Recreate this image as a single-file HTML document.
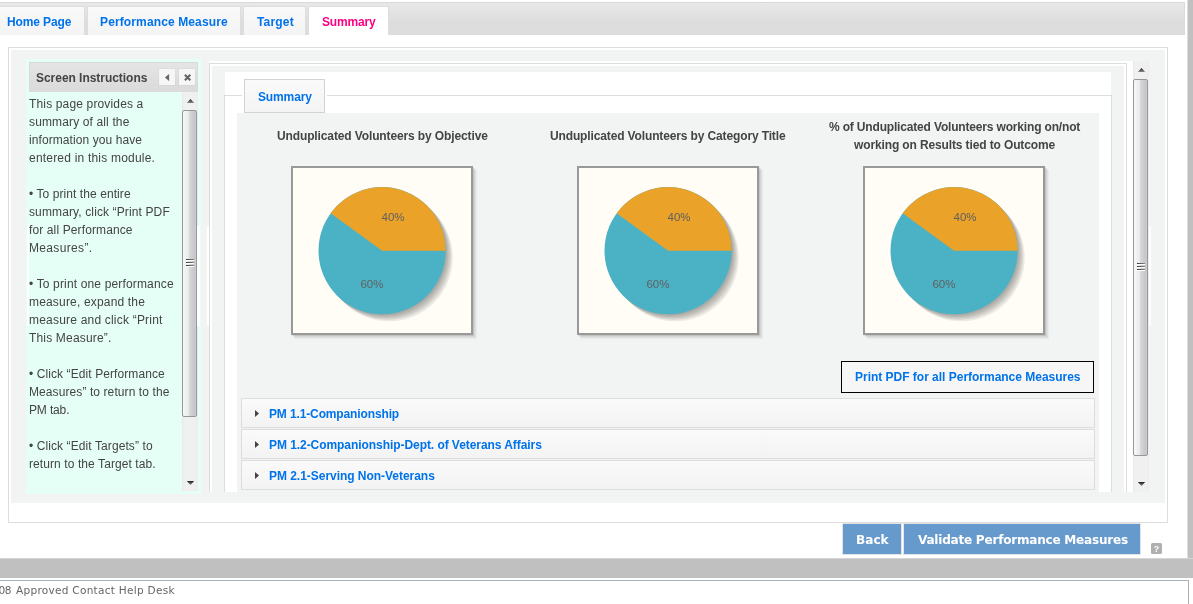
<!DOCTYPE html>
<html lang="en">
<head>
<meta charset="utf-8">
<title>Summary</title>
<style>
html,body{margin:0;padding:0;}
body{width:1193px;height:604px;overflow:hidden;background:#fff;position:relative;font-family:"Liberation Sans",Arial,Helvetica,sans-serif;font-size:12px;color:#444;}
.abs{position:absolute;box-sizing:border-box;}
a{text-decoration:none;}
h1,h2,h3,p,ul,li,figure,figcaption,nav,aside,main,section,footer,header{margin:0;padding:0;border:0;font-weight:normal;list-style:none;}
button{appearance:none;-webkit-appearance:none;border:0;padding:0;margin:0;background:none;font:inherit;color:inherit;text-align:left;cursor:pointer;}
.tx{white-space:nowrap;line-height:18px;height:18px;font-size:12px;}
.tb{font-weight:bold;}
.tn{color:#444;}
.blue{color:#0073ea;}
.pink{color:#ff0084;}
.dark{color:#444;}
.dark2{color:#444;}
.vb{font-family:"DejaVu Sans","Liberation Sans",sans-serif;font-weight:bold;font-size:13px;color:#fff;line-height:20px;height:20px;transform:scaleX(0.93);transform-origin:0 0;}
.vf{font-family:"DejaVu Sans","Liberation Sans",sans-serif;font-size:9.6px;color:#666;transform:scaleX(1.1);transform-origin:0 0;}
#band{left:-6px;top:2px;width:1191px;height:33px;border:1px solid #dadada;border-bottom:0;background:linear-gradient(#e8e8e8,#dddddd 60%,#dcdcdc);}
.tab{top:6px;height:29px;border:1px solid #ddd;border-bottom:0;background:linear-gradient(#f9f9f9,#f4f4f4);}
.tab.on{background:#fff;}
#rstrip{left:1187px;top:0;width:6px;height:578px;background:linear-gradient(90deg,#dedede 0,#dedede 1px,#c0c0c0 1px);}
#gband{left:0;top:558px;width:1193px;height:20px;background:linear-gradient(#d6d6d6 0,#d6d6d6 1px,#c0c0c0 1px);}
#foot{left:-10px;top:580px;width:1199px;height:30px;border:1px solid #a9b1b9;background:#fff;}
#outer{left:8px;top:47px;width:1160px;height:476px;border:1px solid #ddd;background:#fff;}
#inner{left:11px;top:50px;width:1154px;height:453px;background:#f2f4f4;}
#mint{left:26px;top:59px;width:175px;height:435px;background:#e6fff6;}
#shead{left:29px;top:62px;width:169px;height:30px;border:1px solid #dadada;background:linear-gradient(#e5e5e5,#dcdcdc 80%);}
.hbtn{top:69px;width:16px;height:16px;background:#f6f6f6;box-shadow:0 0 0 1px rgba(0,0,0,.02);}
.track{background:linear-gradient(90deg,#e9e9e9 0,#f0f0f0 2px,#f0f0f0 14px,#ececec 16px);}
.thumb{border:1px solid #979797;border-radius:2px;background:linear-gradient(90deg,#f8f8f8 0,#e9e9eb 45%,#d8d8db 50%,#c4c4c9 92%,#d4d4d6 100%);}
.grip{width:8px;height:8px;background:linear-gradient(90deg,#3a3a3a,#8a8a8a) 0 0/8px 1px no-repeat,linear-gradient(#fff,#fff) 0 1px/8px 1px no-repeat,linear-gradient(90deg,#3a3a3a,#8a8a8a) 0 3px/8px 1px no-repeat,linear-gradient(#fff,#fff) 0 4px/8px 1px no-repeat,linear-gradient(90deg,#3a3a3a,#8a8a8a) 0 6px/8px 1px no-repeat,linear-gradient(#fff,#fff) 0 7px/8px 1px no-repeat;}
.strip{background:#fff;top:226px;height:100px;}
#rwhite{left:209px;top:61px;width:924px;height:431px;background:#fff;}
#rborder{left:209px;top:63px;width:918px;height:429px;border:1px solid #ddd;border-bottom:0;background:#fff;}
#rgray{left:212px;top:66px;width:912px;height:426px;background:#f2f4f4;}
#rw2{left:225px;top:72px;width:886px;height:420px;background:#fff;}
#fs{left:224px;top:95px;width:888px;height:397px;border:1px solid #ddd;border-bottom:0;}
#legpad{left:242px;top:95px;width:85px;height:1px;background:#fff;}
#legend{left:244px;top:79px;width:81px;height:34px;border:1px solid #d3d3d3;background:linear-gradient(#fafafa,#f4f4f4);}
#fgray{left:237px;top:113px;width:862px;height:379px;background:#f2f4f4;}
.chart{top:166px;width:182px;height:169px;border:2px solid #999;background:#fffdf6;box-shadow:1px 1px 0 rgba(0,0,0,.08),2px 2px 0 rgba(0,0,0,.05),3px 3px 0 rgba(0,0,0,.04),4px 4px 1px rgba(0,0,0,.035);}
#pbtn{left:841px;top:361px;width:253px;height:32px;border:1px solid #000;background:#f6f6f6;}
.acc{left:241px;width:854px;height:30px;border:1px solid #ddd;background:linear-gradient(#fafafa,#f3f3f3);}
.btn{top:523px;height:32px;background:#6699cc;border:1px solid #e4e4e4;}
#help{left:1151px;top:543px;width:11px;height:11px;border-radius:1.5px;background:#b0b0b0;color:#fff;font-size:9px;font-weight:bold;line-height:12.5px;text-align:center;overflow:hidden;}
</style>
</head>
<body>
<header>
<div class="abs" id="band"></div>
<nav>
<ul>
<li><div class="abs tab" style="left:-5px;width:90px;"></div><a href="#" id="t_home" class="abs tx tb blue" style="left:7.00px;top:13px;letter-spacing:-0.130px">Home Page</a></li>
<li><div class="abs tab" style="left:87px;width:154px;"></div><a href="#" id="t_perf" class="abs tx tb blue" style="left:100.00px;top:13px;letter-spacing:0.124px">Performance Measure</a></li>
<li><div class="abs tab" style="left:243px;width:63px;"></div><a href="#" id="t_targ" class="abs tx tb blue" style="left:257.00px;top:13px;letter-spacing:0.176px">Target</a></li>
<li><div class="abs tab on" style="left:308px;width:81px;"></div><a href="#" id="t_summ" class="abs tx tb pink" style="left:322.00px;top:13px;letter-spacing:-0.173px">Summary</a></li>
</ul>
</nav>
</header>
<div class="abs" id="rstrip"></div>
<div class="abs" id="gband"></div>

<div class="abs" id="outer"></div>
<div class="abs" id="inner"></div>

<aside>
<div class="abs" id="mint"></div>
<div class="abs" id="shead"></div>
<h3 id="t_scr" class="abs tx tb dark" style="left:36.00px;top:69px;letter-spacing:-0.036px">Screen Instructions</h3>
<div class="abs hbtn" style="left:159px;"><svg width="16" height="16" viewBox="0 0 16 16"><path d="M10.1 5 L10.1 12 L5.9 8.5 Z" fill="#666"/></svg></div>
<div class="abs hbtn" style="left:179px;"><svg width="16" height="16" viewBox="0 0 16 16"><path d="M5.9 5.8 L11.3 11.2 M11.3 5.8 L5.9 11.2" stroke="#666" stroke-width="2.2" fill="none"/></svg></div>
<div class="abs track" style="left:182px;top:92px;width:16px;height:399px;"></div>
<svg class="abs" style="left:182px;top:92px;" width="16" height="17" viewBox="0 0 16 17"><defs><linearGradient id="ag" x1="0" y1="0" x2="0" y2="1"><stop offset="0" stop-color="#1c1c1c"/><stop offset="1" stop-color="#8a8a8a"/></linearGradient></defs><path d="M4.8 11 L8.5 7 L12.2 11 Z" fill="url(#ag)"/></svg>
<div class="abs thumb" style="left:182px;top:110px;width:15px;height:307px;"></div>
<div class="abs grip" style="left:186px;top:259px;"></div>
<svg class="abs" style="left:182px;top:474px;" width="16" height="17" viewBox="0 0 16 17"><path d="M4.8 7 L8.5 11 L12.2 7 Z" fill="url(#ag)"/></svg>
<div class="abs strip" style="left:27px;width:2px;"></div>
<div class="abs strip" style="left:197px;width:3px;"></div>
<div class="abs strip" style="left:207px;width:2px;"></div>
<p><span id="s0" class="abs tx tn" style="left:29.00px;top:95px;letter-spacing:0.152px">This page provides a</span><span id="s1" class="abs tx tn" style="left:29.00px;top:113px;letter-spacing:0.136px">summary of all the</span><span id="s2" class="abs tx tn" style="left:29.00px;top:131px;letter-spacing:0.080px">information you have</span><span id="s3" class="abs tx tn" style="left:29.00px;top:149px;letter-spacing:0.204px">entered in this module.</span></p>
<p><span id="s5" class="abs tx tn" style="left:29.00px;top:185px;letter-spacing:0.076px">• To print the entire</span><span id="s6" class="abs tx tn" style="left:29.00px;top:203px;letter-spacing:0.123px">summary, click “Print PDF</span><span id="s7" class="abs tx tn" style="left:29.00px;top:221px;letter-spacing:0.120px">for all Performance</span><span id="s8" class="abs tx tn" style="left:29.00px;top:239px;letter-spacing:0.338px">Measures”.</span></p>
<p><span id="s10" class="abs tx tn" style="left:29.00px;top:275px;letter-spacing:0.154px">• To print one performance</span><span id="s11" class="abs tx tn" style="left:29.00px;top:293px;letter-spacing:0.173px">measure, expand the</span><span id="s12" class="abs tx tn" style="left:29.00px;top:311px;letter-spacing:0.202px">measure and click “Print</span><span id="s13" class="abs tx tn" style="left:29.00px;top:329px;letter-spacing:0.172px">This Measure”.</span></p>
<p><span id="s15" class="abs tx tn" style="left:29.00px;top:365px;letter-spacing:0.090px">• Click “Edit Performance</span><span id="s16" class="abs tx tn" style="left:29.00px;top:383px;letter-spacing:0.090px">Measures” to return to the</span><span id="s17" class="abs tx tn" style="left:29.00px;top:401px;letter-spacing:-0.147px">PM tab.</span></p>
<p><span id="s19" class="abs tx tn" style="left:29.00px;top:437px;letter-spacing:0.093px">• Click “Edit Targets” to</span><span id="s20" class="abs tx tn" style="left:29.00px;top:455px;letter-spacing:0.087px">return to the Target tab.</span></p>
</aside>

<main>
<div class="abs" id="rwhite"></div>
<div class="abs" id="rborder"></div>
<div class="abs" id="rgray"></div>
<div class="abs" id="rw2"></div>
<section>
<div class="abs" id="fs"></div>
<div class="abs" id="fgray"></div>
<div class="abs" id="legpad"></div>
<div class="abs" id="legend"></div>
<h2 id="t_leg" class="abs tx tb blue" style="left:258.00px;top:88px;letter-spacing:-0.133px">Summary</h2>
<figure><figcaption id="c1" class="abs tx tb dark2" style="left:277.00px;top:127px;letter-spacing:-0.123px">Unduplicated Volunteers by Objective</figcaption><div class="abs chart" style="left:291px;"><svg width="178" height="165" viewBox="0 0 178 165" style="display:block"><circle cx="90.51" cy="84.11" r="63.6" fill="#000" fill-opacity="0.075"/><circle cx="91.92" cy="85.52" r="63.6" fill="#000" fill-opacity="0.075"/><circle cx="93.33" cy="86.93" r="63.6" fill="#000" fill-opacity="0.075"/><circle cx="94.74" cy="88.34" r="63.6" fill="#000" fill-opacity="0.075"/><circle cx="96.15" cy="89.75" r="63.6" fill="#000" fill-opacity="0.075"/><circle cx="89.1" cy="82.7" r="63.6" fill="#4bb2c5"/><path d="M89.1 82.7 L152.7 82.7 A63.6 63.6 0 0 0 37.65 45.32 Z" fill="#eaa228"/><text x="100.1" y="52.7" text-anchor="middle" font-family="Liberation Sans, sans-serif" font-size="11.5" fill="#606060">40%</text><text x="78.9" y="119.7" text-anchor="middle" font-family="Liberation Sans, sans-serif" font-size="11.5" fill="#606060">60%</text></svg></div></figure>
<figure><figcaption id="c2" class="abs tx tb dark2" style="left:550.00px;top:127px;letter-spacing:-0.134px">Unduplicated Volunteers by Category Title</figcaption><div class="abs chart" style="left:577px;"><svg width="178" height="165" viewBox="0 0 178 165" style="display:block"><circle cx="90.51" cy="84.11" r="63.6" fill="#000" fill-opacity="0.075"/><circle cx="91.92" cy="85.52" r="63.6" fill="#000" fill-opacity="0.075"/><circle cx="93.33" cy="86.93" r="63.6" fill="#000" fill-opacity="0.075"/><circle cx="94.74" cy="88.34" r="63.6" fill="#000" fill-opacity="0.075"/><circle cx="96.15" cy="89.75" r="63.6" fill="#000" fill-opacity="0.075"/><circle cx="89.1" cy="82.7" r="63.6" fill="#4bb2c5"/><path d="M89.1 82.7 L152.7 82.7 A63.6 63.6 0 0 0 37.65 45.32 Z" fill="#eaa228"/><text x="100.1" y="52.7" text-anchor="middle" font-family="Liberation Sans, sans-serif" font-size="11.5" fill="#606060">40%</text><text x="78.9" y="119.7" text-anchor="middle" font-family="Liberation Sans, sans-serif" font-size="11.5" fill="#606060">60%</text></svg></div></figure>
<figure><figcaption id="c3a" class="abs tx tb dark2" style="left:829.00px;top:118px;letter-spacing:-0.170px">% of Unduplicated Volunteers working on/not</figcaption><figcaption id="c3b" class="abs tx tb dark2" style="left:854.00px;top:136px;letter-spacing:-0.126px">working on Results tied to Outcome</figcaption><div class="abs chart" style="left:863px;"><svg width="178" height="165" viewBox="0 0 178 165" style="display:block"><circle cx="90.51" cy="84.11" r="63.6" fill="#000" fill-opacity="0.075"/><circle cx="91.92" cy="85.52" r="63.6" fill="#000" fill-opacity="0.075"/><circle cx="93.33" cy="86.93" r="63.6" fill="#000" fill-opacity="0.075"/><circle cx="94.74" cy="88.34" r="63.6" fill="#000" fill-opacity="0.075"/><circle cx="96.15" cy="89.75" r="63.6" fill="#000" fill-opacity="0.075"/><circle cx="89.1" cy="82.7" r="63.6" fill="#4bb2c5"/><path d="M89.1 82.7 L152.7 82.7 A63.6 63.6 0 0 0 37.65 45.32 Z" fill="#eaa228"/><text x="100.1" y="52.7" text-anchor="middle" font-family="Liberation Sans, sans-serif" font-size="11.5" fill="#606060">40%</text><text x="78.9" y="119.7" text-anchor="middle" font-family="Liberation Sans, sans-serif" font-size="11.5" fill="#606060">60%</text></svg></div></figure>
<div class="abs" id="pbtn"></div>
<a href="#" id="pbt" class="abs tx tb blue" style="left:855.00px;top:368px;letter-spacing:-0.015px">Print PDF for all Performance Measures</a>
<div class="abs acc" style="top:398px;"></div>
<svg class="abs" style="left:254px;top:409px;" width="6" height="9" viewBox="0 0 6 9"><path d="M1 1 L5 4.5 L1 8 Z" fill="#444"/></svg>
<h3 id="a1" class="abs tx tb blue" style="left:269.00px;top:405px;letter-spacing:-0.131px">PM 1.1-Companionship</h3>
<div class="abs acc" style="top:429px;"></div>
<svg class="abs" style="left:254px;top:440px;" width="6" height="9" viewBox="0 0 6 9"><path d="M1 1 L5 4.5 L1 8 Z" fill="#444"/></svg>
<h3 id="a2" class="abs tx tb blue" style="left:269.00px;top:436px;letter-spacing:-0.060px">PM 1.2-Companionship-Dept. of Veterans Affairs</h3>
<div class="abs acc" style="top:460px;"></div>
<svg class="abs" style="left:254px;top:471px;" width="6" height="9" viewBox="0 0 6 9"><path d="M1 1 L5 4.5 L1 8 Z" fill="#444"/></svg>
<h3 id="a3" class="abs tx tb blue" style="left:269.00px;top:467px;letter-spacing:-0.034px">PM 2.1-Serving Non-Veterans</h3>
</section>
<div class="abs track" style="left:1133px;top:61px;width:16px;height:431px;"></div>
<svg class="abs" style="left:1133px;top:61px;" width="16" height="17" viewBox="0 0 16 17"><path d="M4.8 11 L8.5 7 L12.2 11 Z" fill="url(#ag)"/></svg>
<div class="abs thumb" style="left:1133px;top:79px;width:15px;height:377px;"></div>
<div class="abs grip" style="left:1137px;top:263px;"></div>
<svg class="abs" style="left:1133px;top:475px;" width="16" height="17" viewBox="0 0 16 17"><path d="M4.8 7 L8.5 11 L12.2 7 Z" fill="url(#ag)"/></svg>
<div class="abs strip" style="left:1149px;width:2px;"></div>
</main>

<div class="abs btn" style="left:842px;width:60px;"></div>
<button type="button" id="b_back" class="abs tx vb" style="left:856.00px;top:530px;letter-spacing:0.020px">Back</button>
<div class="abs btn" style="left:903px;width:238px;"></div>
<button type="button" id="b_val" class="abs tx vb" style="left:918.00px;top:530px;letter-spacing:-0.271px">Validate Performance Measures</button>
<div class="abs" id="help">?</div>

<footer>
<div class="abs" id="foot"></div>
<span id="ft0" class="abs tx vf" style="left:-7.60px;top:582px;letter-spacing:-0.300px">508</span><span id="ft" class="abs tx vf" style="left:16.20px;top:582px;letter-spacing:0.236px">Approved Contact Help Desk</span>
</footer>
</body>
</html>
